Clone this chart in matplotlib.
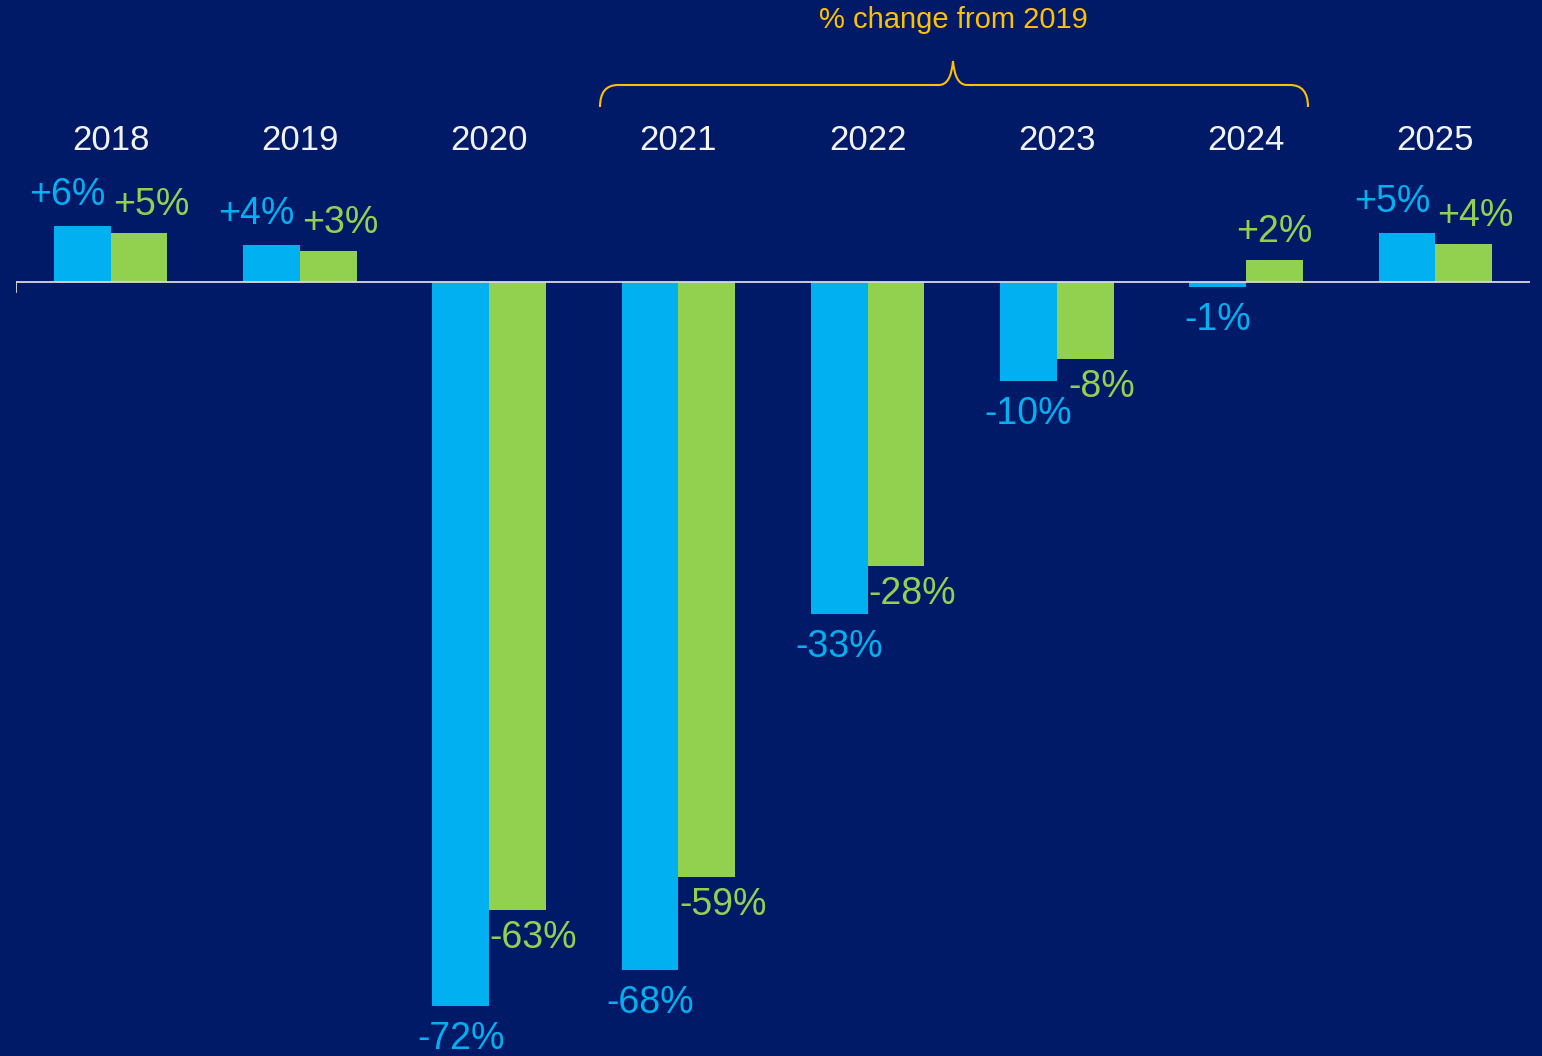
import matplotlib.pyplot as plt
import numpy as np
from matplotlib.path import Path
from matplotlib.patches import PathPatch

years = ['2018', '2019', '2020', '2021', '2022', '2023', '2024', '2025']
blue_vals = [5.6, 3.7, -72.0, -68.4, -33.0, -9.8, -0.5, 4.9]
green_vals = [4.9, 3.1, -62.5, -59.2, -28.3, -7.7, 2.2, 3.8]
blue_labels = ['+6%', '+4%', '-72%', '-68%', '-33%', '-10%', '-1%', '+5%']
green_labels = ['+5%', '+3%', '-63%', '-59%', '-28%', '-8%', '+2%', '+4%']
title_text = '% change from 2019'

BG = '#001A68'
BLUE = '#00B0F0'
GREEN = '#92D050'
GOLD = '#FFC000'

plt.rcParams['font.family'] = ['Liberation Sans', 'DejaVu Sans']

fig = plt.figure(figsize=(15.42, 10.56), dpi=100, facecolor=BG)
ax = fig.add_axes([16 / 1542, 0, 1514 / 1542, 1])
ax.set_facecolor(BG)
ax.set_xlim(-0.5, 7.5)
ax.set_ylim(-77.0, 28.06)
ax.axis('off')

x = np.arange(len(years))
w = 0.3
ax.bar(x - w / 2, blue_vals, w, color=BLUE, zorder=2)
ax.bar(x + w / 2, green_vals, w, color=GREEN, zorder=2)

# baseline + little tick at left
ax.axhline(0, color='#D9D9D9', lw=1.3, zorder=3)
ax.plot([-0.5, -0.5], [0, -1.0], color='#D9D9D9', lw=1.3, zorder=3)

fs = 27
for i in range(len(years)):
    ax.text(x[i], 14.1, years[i], color='#F2F2F2', fontsize=25,
            ha='center', va='center')

    b = blue_vals[i]
    dx = -15 if b > 0 else 0
    dy = 31 if b > 0 else -33
    ax.annotate(blue_labels[i], xy=(x[i] - w / 2, b), xytext=(dx, dy),
                textcoords='offset pixels', color=BLUE, fontsize=fs,
                ha='center', va='center')

    g = green_vals[i]
    if g > 0:
        dx = 12 if i != 6 else 0
        dy = 28
    else:
        dx = 16
        dy = -28
    ax.annotate(green_labels[i], xy=(x[i] + w / 2, g), xytext=(dx, dy),
                textcoords='offset pixels', color=GREEN, fontsize=fs,
                ha='center', va='center')

# bracket over 2021-2024
fx = lambda px: px / 1542
fy = lambda py: 1 - py / 1056
x0, x1, xm = 600, 1308, 953
yb, yh, yp = 107, 85, 61
r = 18
verts = [
    (x0, yb), (x0, yh), (x0 + r, yh),
    (xm - 14, yh), (xm - 2, yh), (xm, yp),
    (xm + 2, yh), (xm + 14, yh),
    (x1 - r, yh), (x1, yh), (x1, yb),
]
codes = [Path.MOVETO, Path.CURVE3, Path.CURVE3,
         Path.LINETO, Path.CURVE3, Path.CURVE3,
         Path.CURVE3, Path.CURVE3,
         Path.LINETO, Path.CURVE3, Path.CURVE3]
verts = [(fx(a), fy(b)) for a, b in verts]
fig.patches.append(PathPatch(Path(verts, codes), transform=fig.transFigure,
                             fill=False, edgecolor=GOLD, lw=1.5))
fig.text(fx(953), fy(20), title_text, color=GOLD, fontsize=21,
         ha='center', va='center')

fig.savefig('out.png', dpi=100, facecolor=BG)
